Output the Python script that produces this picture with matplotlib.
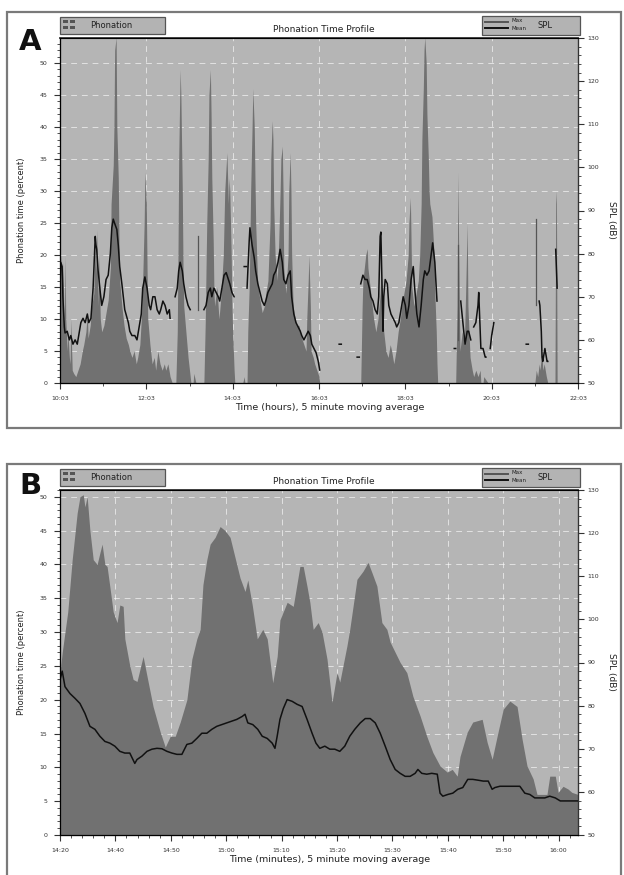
import matplotlib
matplotlib.use('Agg')
import matplotlib.pyplot as plt
import numpy as np
from matplotlib.patches import Rectangle
from matplotlib.lines import Line2D
from matplotlib.ticker import MultipleLocator

nan = np.nan

# Painel A: tempo em minutos desde 10:03
a_phon_t = [0, 1, 2, 3, 4, 6, 7, 8, 10, 11, 13, 14, 15, 17, 19, 22, 25, 28, 31, 33,
            36, 38, 39, 42, 44, 47, 49, 50, 51, 53, 54, 56, 58, 61, 64, 67, 70, 71, 74, 75,
            76, 78, 79, 81, 82, 83, 86, 89, 92, 95, 97, 100, 103, 106, 108, 111, 114, 117, 118, 120,
            121, 122, 125, 128, 131, 133, 136, 139, 142, 145, 147, 150, 153, 156,
            161, 163, 164, 165, 167, 168, 170, 171, 172, 175, 178, 181, 182,
            185, 186, 188, 189,
            200, 202, 203, 204, 206, 207, 209, 210, 211, 213, 214, 215, 218, 221, 224, 227, 229, 231, 232, 234,
            235, 236, 238, 239, 240, 242, 243,
            254, 256, 257,
            260, 261, 263, 264, 265, 267, 268, 270, 271, 272, 274, 275, 278, 281, 284, 286, 289, 292, 293, 295,
            296, 297, 299, 302, 304, 306, 307, 309, 310, 311, 314, 317, 318, 320, 321, 322, 324, 327, 329, 332,
            334, 336, 339, 342, 343, 345, 346, 348, 349, 352, 354, 357, 360, 361,
            418, 420, 421, 423, 425, 427, 428, 431, 434, 436, 439, 442, 445, 446, 448, 450, 453, 456, 459, 461,
            464, 467, 470, 473, 475, 478, 481, 484, 485, 487, 488, 489, 492, 495, 498, 500, 502, 503, 505, 506,
            507, 509, 510, 512, 513, 514, 517, 520, 521, 523, 524, 525,
            550, 552, 553, 555, 556, 559, 562, 564, 566, 567, 570, 573, 575, 578, 581, 584, 585,
            588, 589, 592, 595,
            660, 662, 664, 666, 667, 669, 670, 671, 673, 676, 678,
            688, 689, 690, 691]
a_phon_v = [0, 18, 20, 12, 19, 8, 20, 10, 5, 8, 4, 3, 10, 2, 1.5, 1, 2, 3, 5, 6,
            8, 11, 7, 9, 12, 14, 22, 17, 24, 12, 20, 10, 8, 9, 11, 13, 18, 28, 34, 40,
            52, 54, 40, 32, 22, 16, 12, 9, 7, 6, 5, 4, 5, 3, 4, 6, 12, 25, 33, 28,
            18, 10, 6, 3, 4, 2, 5, 3, 2, 3, 2, 3, 1, 0,
            0, 8, 20, 35, 49, 45, 30, 18, 12, 8, 4, 1, 0,
            0, 1.5, 0.5, 0,
            0, 10, 18, 25, 35, 45, 49, 42, 32, 22, 14, 12, 15, 10, 14, 20, 30, 34, 36, 28,
            32, 30, 20, 12, 8, 2, 0,
            0, 1, 0,
            0, 8, 15, 22, 30, 40, 46, 40, 32, 25, 18, 15, 13, 11, 12, 14, 16, 25, 35, 41,
            38, 28, 20, 16, 22, 30, 35, 37, 30, 18, 14, 20, 30, 36, 30, 20, 12, 10, 9, 9,
            8, 7, 6, 5, 10, 16, 20, 12, 5, 4, 3, 2, 1, 0,
            0, 12, 16, 18, 20, 21, 18, 15, 12, 10, 8, 10, 14, 17, 12, 8, 5, 4, 6, 5,
            3, 5, 8, 10, 12, 14, 16, 20, 25, 29, 22, 15, 12, 14, 16, 20, 28, 38, 46, 52,
            54, 50, 42, 35, 30, 28, 26, 20, 14, 8, 3, 0,
            0, 12, 33, 12, 5, 8, 6, 15, 25, 12, 4, 2, 1, 2, 1, 2, 0,
            0, 1, 0.5, 0,
            0, 2, 1, 3, 2, 4, 5, 2, 3, 1, 0,
            0, 28, 30, 0]

a_spl_t = [0, 1, 3, 4, 6, 7, 10, 13, 15, 18, 21, 24, 26, 29, 32, 35, 38, 40, 43, 46,
           49, 50, 51, 53, 56, 58, 61, 64, 67, 70, 72, 74, 76, 79, 81, 83, 86, 90, 95, 97,
           100, 104, 107, 110, 113, 115, 118, 121, 124, 126, 129, 132, 135, 138, 140, 143, 146, 149, 152, 153, nan,
           160, 163, 165, 167, 170, 172, 175, 178, 181, nan,
           200, 203, 206, 209, 211, 214, 217, 220, 222, 225, 228, 231, 234, 236, 239, 242, nan,
           256, 259, nan,
           260, 263, 264, 267, 270, 272, 275, 278, 281, 284, 286, 289, 292, 295, 297, 300, 303, 306, 309, 311,
           314, 317, 320, 322, 325, 328, 331, 334, 336, 339, 342, 345, 348, 350, 353, 356, 359, 361, nan,
           388, 391, nan, 413, 416, nan,
           418, 421, 424, 427, 430, 432, 435, 438, 441, 443, 445, 446, 448, 449, 450, 452, 455, 457, 460, 463,
           466, 468, 471, 474, 477, 480, 482, 485, 488, 491, 493, 496, 499, 502, 505, 507, 510, 513, 516, 518,
           521, 524, nan,
           548, 550, nan,
           557, 560, 563, 566, 568, 571, nan,
           575, 578, 581, 582, 584, 585, 588, 591, 592, nan,
           598, 600, 603, nan,
           648, 651, nan,
           666, 667, 669, 670, 671, 674, 677, 678, nan,
           689, 691]
a_spl_v = [72, 78, 77, 70, 63, 61.6, 62, 60, 61, 59, 60, 59, 61, 64, 65, 64, 66, 64, 65, 72,
           84, 82, 81, 76, 71, 68, 70, 74, 75, 80, 86, 88, 87, 85.6, 82, 77, 73, 67, 64, 62,
           61, 61, 60, 63, 66, 72, 74.6, 72, 68, 67, 70, 70, 67, 66, 67, 69, 68, 66, 67, 65, nan,
           70, 72, 76, 78, 76, 73, 70, 68, 67, nan,
           67, 68, 71, 72, 70, 72, 71, 70, 69, 72, 75, 75.6, 74, 73, 71, 70, nan,
           77, 77, nan,
           72, 83, 86, 82, 79, 76, 73, 71, 69, 68, 69, 71, 72, 73, 75, 76, 78, 81, 78, 74,
           73, 75, 76, 70, 66, 64, 63, 62, 61, 60, 61, 62, 61, 59, 58, 57, 55, 53, nan,
           59, 59, nan, 56, 56, nan,
           73, 75, 74, 74, 72, 70, 69, 67, 66, 70, 84, 85, 70, 62, 70, 74, 73, 68, 66, 65,
           64, 63, 64, 67, 70, 68, 65, 68, 74, 77, 72, 66, 63, 68, 74, 76, 75, 76, 80, 82.5,
           78, 69, nan,
           58, 58, nan,
           69, 64, 59, 62, 62, 60, nan,
           63, 64, 68, 71, 62, 58, 58, 56, 56, nan,
           58, 61, 64, nan,
           59, 59, nan,
           69, 68, 62, 56, 55, 58, 55, 55, nan,
           81, 72]

a_max_t = [192, 192, nan, 553, 553, nan, 662, 662]
a_max_v = [67, 84, nan, 60, 82, nan, 68, 88]

a_ticks = [0, 120, 240, 360, 480, 600, 720]
a_labels = ['10:03', '12:03', '14:03', '16:03', '18:03', '20:03', '22:03']

# Painel B: tempo em minutos desde o inicio do eixo
b_phon_t = [0, 0.4, 0.9, 1.4, 2.2, 3.1, 3.6, 4.2, 4.5, 4.9, 5.4, 6.0, 6.7, 7.2, 7.6, 8.1, 8.5, 9.0, 9.6, 10.3,
            10.8, 11.4, 11.7, 12.6, 13.2, 13.9, 15.0, 15.7, 16.8, 18.1, 19.0, 19.9, 20.8, 21.7, 22.9, 23.8, 24.7, 25.3, 25.8, 26.5,
            27.1, 28.0, 28.9, 29.8, 30.7, 31.6, 32.5, 33.4, 33.9, 34.7, 35.6, 36.6, 37.4, 38.4, 39.2, 39.7, 41.0, 42.1, 43.3, 43.9,
            44.6, 45.1, 45.7, 46.6, 47.3, 48.2, 49.1, 50.0, 50.5, 51.8, 52.3, 53.6, 54.7, 55.6, 56.3, 57.2, 58.1, 59.0, 59.6, 61.4,
            62.6, 63.7, 65.0, 66.2, 67.3, 68.6, 69.9, 70.8, 71.7, 72.2, 73.5, 74.5, 76.2, 77.1, 78.0, 78.9, 80.0, 81.2, 82.5, 83.4,
            84.3, 85.4, 86.1, 87.9, 88.4, 89.4, 89.9, 90.8, 91.7, 92.4, 93.5]
b_phon_v = [24, 27, 30, 33, 40.7, 47.6, 50, 50.3, 48.5, 50, 45, 40.7, 40, 41.7, 43, 40, 39.7, 36.7, 33, 31.4,
            34, 33.8, 29, 25, 23, 22.7, 26.4, 23.5, 19, 15.2, 13, 14.6, 14.6, 16.7, 20, 26, 29, 30.4, 37, 40.7,
            43, 44, 45.6, 45, 44, 41, 38, 36, 37.7, 34, 29, 30.4, 29, 22.5, 26.4, 31.8, 34.4, 33.8, 39.7, 39.7,
            36.7, 34.4, 30.4, 31.4, 30, 26, 19.6, 24, 22.6, 28, 30.4, 37.8, 39, 40.3, 38.8, 36.8, 31.4, 30.4, 28.5, 25.5,
            24, 20.5, 17.6, 14.6, 12.2, 10.2, 9.3, 9.7, 8.7, 11.6, 15.2, 16.7, 17.1, 13.7, 11.2, 14.6, 18.6, 19.8, 19, 14.2,
            10.2, 8.3, 6, 6, 8.7, 8.7, 6.3, 7.2, 6.8, 6.3, 6]

b_spl_t = [0, 0.4, 0.9, 1.8, 2.7, 3.6, 4.5, 5.4, 6.3, 7.2, 8.1, 9.0, 9.9, 10.8, 11.7, 12.6, 13.5, 13.9, 14.8, 15.7,
           16.6, 17.5, 18.4, 19.3, 20.2, 21.1, 22.0, 22.9, 23.8, 24.7, 25.6, 26.5, 27.4, 28.3, 29.2, 30.1, 31.0, 31.9, 32.9, 33.4,
           33.9, 34.8, 35.7, 36.5, 37.4, 38.3, 38.8, 39.2, 39.7, 40.3, 41.0, 41.9, 42.8, 43.7, 44.6, 45.5, 46.2, 46.9, 47.8, 48.7,
           49.6, 50.5, 51.4, 52.3, 53.2, 54.2, 55.1, 56.0, 56.9, 57.8, 58.7, 59.6, 60.5, 61.4, 62.3, 63.2, 64.1, 64.6, 65.3, 66.2,
           67.1, 68.1, 68.6, 69.1, 70.0, 70.9, 71.8, 72.7, 73.6, 74.5, 75.5, 76.4, 77.3, 78.0, 78.5, 79.4, 80.3, 81.2, 82.1, 83.0,
           83.9, 84.8, 85.7, 86.6, 87.5, 88.4, 89.4, 90.3, 91.2, 92.1, 93.5]
b_spl_v = [86, 88, 84.4, 82.8, 81.7, 80.5, 78.2, 75.2, 74.5, 72.9, 71.7, 71.3, 70.6, 69.4, 69, 69, 66.6, 67.5, 68.3, 69.4,
           69.9, 70.1, 70, 69.4, 69, 68.7, 68.7, 71, 71.3, 72.4, 73.6, 73.6, 74.5, 75.2, 75.6, 76, 76.4, 76.8, 77.5, 78,
           76, 75.6, 74.5, 72.9, 72.4, 71.3, 70.1, 72.9, 76.8, 79.3, 81.4, 81, 80.3, 79.8, 76.8, 73.6, 71.3, 70.1, 70.6, 69.9,
           69.9, 69.4, 70.6, 72.9, 74.5, 76, 77, 77, 76, 73.6, 70.6, 67.5, 65.2, 64.3, 63.6, 63.6, 64.3, 65.2, 64.3, 64.1,
           64.3, 64.1, 59.7, 59, 59.4, 59.7, 60.6, 61, 62.9, 62.9, 62.7, 62.5, 62.5, 60.6, 61, 61.3, 61.3, 61.3, 61.3, 61.3,
           59.7, 59.4, 58.6, 58.6, 58.6, 59, 58.6, 57.9, 57.9, 57.9, 57.9]

b_ticks = [0, 10, 20, 30, 40, 50, 60, 70, 80, 90]
b_labels = ['14:20', '14:40', '14:50', '15:00', '15:10', '15:20', '15:30', '15:40', '15:50', '16:00']

W, H = 624, 875
fig = plt.figure(figsize=(6.24, 8.75), dpi=100)
fig.patch.set_facecolor('white')


def fx(x):
    return x / W


def fy(y):
    return 1 - y / H


def rect(x0, y0, x1, y1, **kw):
    fig.add_artist(Rectangle((fx(x0), fy(y1)), (x1 - x0) / W, (y1 - y0) / H,
                             transform=fig.transFigure, **kw))


def painel(top, letra, letra_y, frame_bottom, ph_t, ph_v, spl_t, spl_v, max_t, max_v,
           xmax, ymax, ticks, labels, minor, xlabel):
    bottom = top + 345
    # moldura externa
    rect(7, top - 26, 621, frame_bottom, fill=False, ec='#7a7a7a', lw=1.6)

    ax = fig.add_axes([fx(60), fy(bottom), (578 - 60) / W, 345 / H])
    ax.set_facecolor('#b5b5b5')
    ax.fill_between(ph_t, 0, ph_v, color='#717171', lw=0, zorder=2)
    ax.set_xlim(0, xmax)
    ax.set_ylim(0, ymax)
    ax.set_xticks(ticks)
    ax.set_xticklabels(labels)
    ax.xaxis.set_minor_locator(MultipleLocator(minor))
    ax.set_yticks(range(0, 51, 5))
    ax.yaxis.set_minor_locator(MultipleLocator(1))
    ax.grid(True, color='white', ls=(0, (6, 5)), lw=0.7, alpha=0.6)
    ax.set_axisbelow(True)
    ax.tick_params(labelsize=4.5, length=4, width=0.8, pad=5, colors='#333333')
    ax.tick_params(which='minor', length=2, width=0.6, colors='#333333')
    for s in ax.spines.values():
        s.set_color('#333333')
        s.set_linewidth(0.9)
    ax.spines['top'].set_linewidth(1.3)

    ax2 = ax.twinx()
    if max_t:
        ax2.plot(max_t, max_v, color='#555555', lw=0.9)
    ax2.plot(spl_t, spl_v, color='#111111', lw=1.1)
    ax2.set_ylim(50, 130)
    ax2.set_yticks(range(50, 131, 10))
    ax2.yaxis.set_minor_locator(MultipleLocator(2))
    ax2.tick_params(labelsize=4.5, length=4, width=0.8, pad=3, colors='#333333')
    ax2.tick_params(which='minor', length=2, width=0.6, colors='#333333')
    ax2.spines['right'].set_color('#333333')

    # textos
    fig.text(fx(324), fy(top - 8), 'Phonation Time Profile', ha='center', va='center',
             fontsize=6.5, color='#222222')
    fig.text(fx(330), fy(bottom + 25), xlabel, ha='center', va='center', fontsize=6.8,
             color='#222222')
    fig.text(fx(22), fy(top + 172), 'Phonation time (percent)', rotation=90,
             ha='center', va='center', fontsize=6, color='#222222')
    fig.text(fx(612), fy(top + 182), 'SPL (dB)', rotation=-90, ha='center', va='center',
             fontsize=6.5, color='#222222')
    fig.text(fx(19), fy(letra_y), letra, fontsize=21, fontweight='bold', va='baseline',
             ha='left', color='#111111')

    # legenda esquerda
    rect(60, top - 21, 165, top - 4, fc='#b3b3b3', ec='#555555', lw=0.9)
    for dx in (63, 70):
        for dy in (top - 18, top - 12):
            rect(dx, dy, dx + 5, dy + 2.5, fc='#555555', ec='none')
    fig.text(fx(90), fy(top - 12.5), 'Phonation', fontsize=6, va='center', color='#222222')

    # legenda direita
    rect(482, top - 22, 580, top - 3, fc='#b3b3b3', ec='#555555', lw=0.9)
    fig.add_artist(Line2D([fx(485), fx(508)], [fy(top - 16), fy(top - 16)], color='#555555',
                          lw=1.4, transform=fig.transFigure))
    fig.add_artist(Line2D([fx(485), fx(508)], [fy(top - 10), fy(top - 10)], color='#111111',
                          lw=1.4, transform=fig.transFigure))
    fig.text(fx(511), fy(top - 17), 'Max', fontsize=4, va='center', color='#222222')
    fig.text(fx(511), fy(top - 9.5), 'Mean', fontsize=4, va='center', color='#222222')
    fig.text(fx(537), fy(top - 13), 'SPL', fontsize=6, va='center', color='#222222')


painel(38, 'A', 50, 428, a_phon_t, a_phon_v, a_spl_t, a_spl_v, a_max_t, a_max_v,
       720, 53.9, a_ticks, a_labels, 60, 'Time (hours), 5 minute moving average')
painel(490, 'B', 494, 900, b_phon_t, b_phon_v, b_spl_t, b_spl_v, [], [],
       93.5, 51, b_ticks, b_labels, 2, 'Time (minutes), 5 minute moving average')

fig.savefig('out.png', dpi=100)
